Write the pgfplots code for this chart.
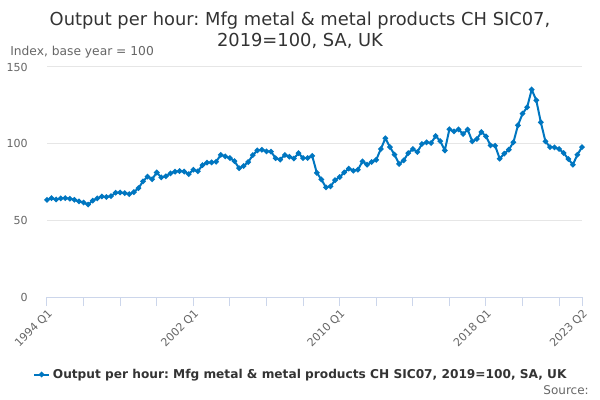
\documentclass[border=0pt]{standalone}
\usepackage{fontspec}
\setmainfont{DejaVu Sans}
\usepackage{pgfplots}
\pgfplotsset{compat=1.18}
\definecolor{linecol}{RGB}{0,118,192}
\definecolor{titlecol}{RGB}{51,51,51}
\definecolor{labcol}{RGB}{102,102,102}
\definecolor{gridcol}{RGB}{230,230,230}
\definecolor{axcol}{RGB}{204,214,235}
\frenchspacing
\begin{document}
\begin{tikzpicture}
\useasboundingbox (0pt,0pt) rectangle (450pt,300pt);
\node[text=titlecol, font=\fontsize{13.4pt}{15pt}\selectfont] at (225pt,284.5pt) {Output per hour: Mfg metal \& metal products CH SIC07,};
\node[text=titlecol, font=\fontsize{13.4pt}{15pt}\selectfont] at (225pt,269.5pt) {2019=100, SA, UK};
\node[text=labcol, anchor=west, inner sep=0pt, font=\fontsize{9.2pt}{11pt}\selectfont] at (7.5pt,261pt) {Index, base year = 100};
\node[text=labcol, anchor=east, inner sep=0pt, font=\fontsize{9pt}{11pt}\selectfont] at (441.75pt,7.5pt) {Source:};
\begin{axis}[
  at={(35.25pt,77.25pt)}, anchor=south west,
  scale only axis, width=401.25pt, height=172.5pt,
  xmin=0, xmax=117, ymin=0, ymax=150,
  axis x line*=bottom, axis y line*=left,
  axis line style={-},
  y axis line style={draw=none},
  x axis line style={color=axcol, line width=0.75pt},
  ytick={0,50,100,150},
  ymajorgrids, major grid style={color=gridcol, line width=0.75pt},
  ytick style={draw=none},
  xtick={0,32,64,96,117},
  xticklabels={1994 Q1,2002 Q1,2010 Q1,2018 Q1,2023 Q2},
  minor xtick={8,16,24,40,48,56,72,80,88,104,112},
  xtick style={color=axcol, line width=0.75pt},
  tick align=outside, major tick length=6.75pt, minor tick length=6.75pt,
  /pgf/number format/assume math mode=true,
  tick label style={text=labcol, font=\fontsize{8.3pt}{10pt}\selectfont},
  yticklabel style={anchor=east, inner sep=0pt, xshift=-7.5pt},
  xticklabel style={rotate=45, anchor=north east, inner sep=1pt},
  legend style={at={(0.475,-0.337)}, anchor=center, draw=none, fill=none,
    font=\bfseries\fontsize{9.13pt}{11pt}\selectfont, text=titlecol},
  legend image code/.code={\draw[mark repeat=2,mark phase=2,#1] plot coordinates {(0cm,0cm) (0.2cm,0cm) (0.4cm,0cm)};},
  clip=false,
]
\addplot[color=linecol, line width=1.5pt, mark=*, mark size=1.2pt] coordinates {
(0,63.4)(1,64.5)(2,63.6)(3,64.3)(4,64.5)(5,64.1)(6,63.4)(7,62.3)(8,61.6)(9,60.3)
(10,62.9)(11,64.3)(12,65.6)(13,65.2)(14,65.8)(15,68)(16,68.2)(17,67.8)(18,67.1)(19,68.4)
(20,71)(21,75.4)(22,78.5)(23,76.8)(24,81.2)(25,78)(26,78.7)(27,80.6)(28,81.7)(29,82.1)
(30,81.8)(31,80.2)(32,83)(33,82)(34,86)(35,87.6)(36,87.8)(37,88.2)(38,92.7)(39,91.7)
(40,90.6)(41,88.6)(42,84)(43,85.5)(44,88)(45,92.5)(46,95.6)(47,96)(48,95)(49,94.8)
(50,90.5)(51,89.6)(52,92.6)(53,91.5)(54,90.3)(55,93.8)(56,90.6)(57,90.6)(58,92)(59,81)
(60,76.7)(61,71.5)(62,72.2)(63,76.2)(64,78.2)(65,81.3)(66,83.7)(67,82.4)(68,83)(69,88.5)
(70,86.3)(71,88)(72,89.5)(73,96.5)(74,103.5)(75,97.8)(76,92.8)(77,86.8)(78,89.1)(79,93.8)
(80,96.5)(81,94.6)(82,99.8)(83,100.9)(84,100.4)(85,105)(86,101.7)(87,95.6)(88,109.4)(89,108)
(90,109.3)(91,106.3)(92,109.2)(93,101.5)(94,103)(95,107.6)(96,104.8)(97,98.9)(98,98.7)(99,90.2)
(100,93.5)(101,96.1)(102,100.9)(103,112)(104,119.6)(105,123.7)(106,135.3)(107,128.3)(108,113.9)(109,101.5)
(110,97.8)(111,97.6)(112,96.5)(113,93.9)(114,90)(115,86.3)(116,92.8)(117,97.8)
};
\addlegendentry{Output per hour: Mfg metal \& metal products CH SIC07, 2019=100, SA, UK}
\end{axis}
\end{tikzpicture}
\end{document}
